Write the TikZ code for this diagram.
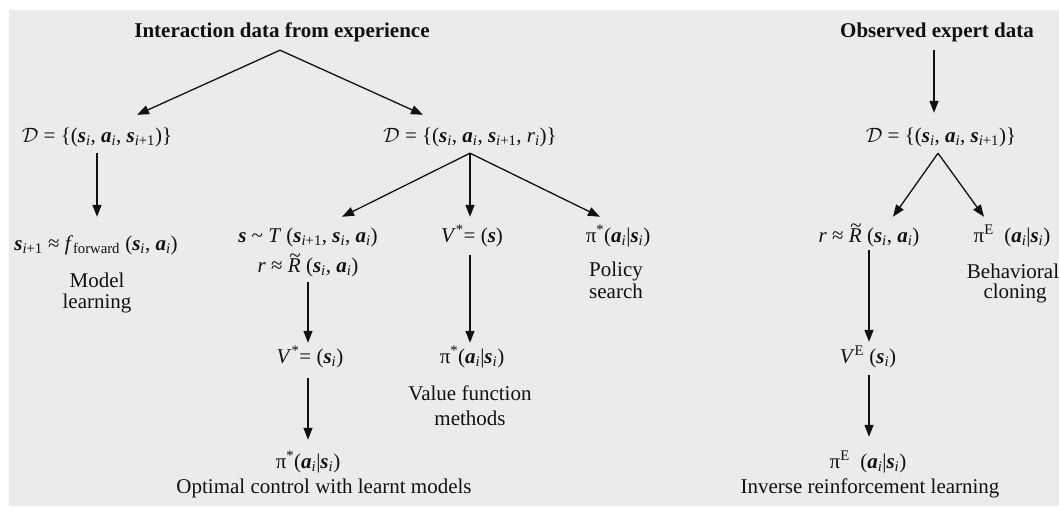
\documentclass[tikz,border=0pt]{standalone}
\usepackage[no-math]{fontspec}
\setmainfont{Liberation Serif}
\usetikzlibrary{arrows.meta}
\definecolor{bgc}{HTML}{EBEBEB}
\definecolor{ink}{HTML}{111111}
\newcommand\bS{\textbf{\textit{s}}}
\newcommand\bA{\textbf{\textit{a}}}
\newcommand\sbi{\textsubscript{\textit{i}}}
\newcommand\sbip{\textsubscript{\textit{i}+1}}
\newcommand\calD{$\mathcal{D}$}
\newcommand\Rt{\textit{R}\hspace{-0.27em}\makebox[0pt]{\raisebox{0.5em}{\textasciitilde}}\hspace{0.27em}}
\begin{document}
\begin{tikzpicture}[x=1pt,y=-1pt,
  lbl/.style={inner sep=0pt, text height=15pt, text depth=4pt, font=\fontsize{21}{24}\selectfont, text=ink},
  ttl/.style={lbl, font=\fontsize{21}{24}\selectfont\bfseries},
  arr/.style={draw=ink, line width=1.3pt, -{Triangle[length=12pt,width=9pt]}}]
\useasboundingbox (0,0) rectangle (1059,506);
\fill[bgc] (9,10) rectangle (1059,506);

% left tree
\node[ttl] (T1) at (282,32) {Interaction data from experience};
\node[lbl] (D1) at (97,137) {\calD{} = \{(\bS\sbi, \bA\sbi, \bS\sbip)\}};
\node[lbl] (F) at (96,245) {\bS\sbip{} ≈ \textit{f}\textsubscript{forward} (\bS\sbi, \bA\sbi)};
\node[lbl] (ML1) at (97,281.5) {Model};
\node[lbl] (ML2) at (97,302.5) {learning};
\node[lbl] (D2) at (470,137) {\calD{} = \{(\bS\sbi, \bA\sbi, \bS\sbip, \textit{r}\sbi)\}};
\node[lbl] (ST1) at (308,237) {\bS{} \textasciitilde{} \textit{T} (\bS\sbip, \bS\sbi, \bA\sbi)};
\node[lbl] (ST2) at (308,267) {\textit{r} ≈ \Rt{} (\bS\sbi, \bA\sbi)};
\node[lbl] (V1) at (310,358) {\textit{V}\textsuperscript{*}= (\bS\sbi)};
\node[lbl] (P1) at (308,463) {π\textsuperscript{*}(\bA\sbi|\bS\sbi)};
\node[lbl] (OC) at (324,488) {Optimal control with learnt models};
\node[lbl] (VS) at (472,237) {\textit{V}\textsuperscript{*}= (\bS)};
\node[lbl] (P2) at (472,358) {π\textsuperscript{*}(\bA\sbi|\bS\sbi)};
\node[lbl] (VF1) at (470,394.5) {Value function};
\node[lbl] (VF2) at (470,419.5) {methods};
\node[lbl] (P3) at (618,237) {π\textsuperscript{*}(\bA\sbi|\bS\sbi)};
\node[lbl] (PS1) at (616,270.5) {Policy};
\node[lbl] (PS2) at (616,292.5) {search};

% right tree
\node[ttl] (T2) at (937,32) {Observed expert data};
\node[lbl] (D3) at (941,137) {\calD{} = \{(\bS\sbi, \bA\sbi, \bS\sbip)\}};
\node[lbl] (R3) at (869,237) {\textit{r} ≈ \Rt{} (\bS\sbi, \bA\sbi)};
\node[lbl] (PE) at (1012,237) {π\textsuperscript{E}\ \ (\bA\sbi|\bS\sbi)};
\node[lbl] (BC1) at (1013,272.5) {Behavioral};
\node[lbl] (BC2) at (1015,292.5) {cloning};
\node[lbl] (VE) at (868,358) {\textit{V}\textsuperscript{E} (\bS\sbi)};
\node[lbl] (PE2) at (868,463) {π\textsuperscript{E}\ \ (\bA\sbi|\bS\sbi)};
\node[lbl] (IRL) at (870,488) {Inverse reinforcement learning};

% connectors
\draw[arr] ([xshift=-2pt,yshift=-8.5pt]T1.south) -- ([xshift=40pt,yshift=12.5pt]D1.north);
\draw[arr] ([xshift=-2pt,yshift=-8.5pt]T1.south) -- ([xshift=-47pt,yshift=12.5pt]D2.north);
\draw[arr] ([xshift=-3pt,yshift=-8.5pt]T2.south) -- ([xshift=-7pt,yshift=14.5pt]D3.north);
\draw[arr] ([yshift=-6.5pt]D1.south) -- ([xshift=1pt,yshift=18.5pt]F.north);
\draw[arr] ([yshift=-6.5pt]D2.south) -- ([xshift=34pt,yshift=10.5pt]ST1.north);
\draw[arr] ([yshift=-6.5pt]D2.south) -- ([xshift=-2pt,yshift=10.5pt]VS.north);
\draw[arr] ([yshift=-6.5pt]D2.south) -- ([xshift=-18pt,yshift=10.5pt]P3.north);
\draw[arr] ([xshift=-3pt,yshift=-6.5pt]D3.south) -- ([xshift=24pt,yshift=10.5pt]R3.north);
\draw[arr] ([xshift=-3pt,yshift=-6.5pt]D3.south) -- ([xshift=-28pt,yshift=10.5pt]PE.north);
\draw[arr] ([yshift=-5.5pt]ST2.south) -- ([xshift=-2pt,yshift=5.5pt]V1.north);
\draw[arr] ([xshift=-2pt,yshift=-10.5pt]V1.south) -- ([yshift=13.5pt]P1.north);
\draw[arr] ([xshift=-2pt,yshift=-8.5pt]VS.south) -- ([xshift=-2pt,yshift=5.5pt]P2.north);
\draw[arr] ([yshift=-3.5pt]R3.south) -- ([xshift=1pt,yshift=6.5pt]VE.north);
\draw[arr] ([xshift=1pt,yshift=-7.5pt]VE.south) -- ([xshift=1pt,yshift=16.5pt]PE2.north);
\end{tikzpicture}
\end{document}
